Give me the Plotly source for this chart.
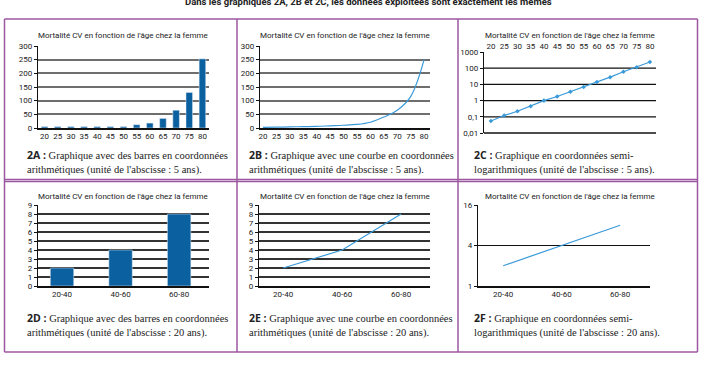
import plotly.graph_objects as go

W, H = 702, 370

# ---------------- data ----------------
ages = [20, 25, 30, 35, 40, 45, 50, 55, 60, 65, 70, 75, 80]
age_labels = [str(a) for a in ages]
mort_bars_5y = [5, 5, 5, 5, 5, 5, 5, 12, 18, 35, 65, 130, 253]
mort_curve_5y = [2, 3, 4, 5, 6, 8, 10, 13, 21, 40, 65, 115, 250]
mort_log_5y = [0.055, 0.12, 0.22, 0.45, 1.0, 1.8, 3.5, 7, 14, 28, 60, 115, 240]
groups = ["20-40", "40-60", "60-80"]
mort_20y = [2, 4, 8]
log_grid_5y = [0.1, 1, 10, 100]

title_txt = "Mortalité CV en fonction de l'âge chez la femme"
captions = [
    ("2A", "Graphique avec des barres en coordonnées", "arithmétiques (unité de l'abscisse : 5 ans)."),
    ("2B", "Graphique avec une courbe en coordonnées", "arithmétiques (unité de l'abscisse : 5 ans)."),
    ("2C", "Graphique en coordonnées semi-", "logarithmiques (unité de l'abscisse : 5 ans)."),
    ("2D", "Graphique avec des barres en coordonnées", "arithmétiques (unité de l'abscisse : 20 ans)."),
    ("2E", "Graphique avec une courbe en coordonnées", "arithmétiques (unité de l'abscisse : 20 ans)."),
    ("2F", "Graphique en coordonnées semi-", "logarithmiques (unité de l'abscisse : 20 ans)."),
]
header = "Dans les graphiques 2A, 2B et 2C, les données exploitées sont exactement les mêmes"

BAR = "#0b609f"
LINE = "#3a9ad8"
PURPLE = "#9d57a0"
SANS = "Roboto"
SERIF = "Liberation Serif"


def px(x):
    return x / W


def py(y):
    return 1 - y / H


def dom(x0, x1, y0, y1):
    return dict(domain=[px(x0), px(x1)]), dict(domain=[py(y1), py(y0)])


fig = go.Figure()

# 2A bars
fig.add_trace(go.Bar(x=age_labels, y=mort_bars_5y, marker_color=BAR, xaxis="x", yaxis="y",
                     width=0.5, showlegend=False))
# 2B curve
fig.add_trace(go.Scatter(x=ages, y=mort_curve_5y, mode="lines", line=dict(color=LINE, width=1.2, shape="spline", smoothing=1.0),
                         xaxis="x2", yaxis="y2", showlegend=False))
# 2C log
fig.add_trace(go.Scatter(x=ages, y=mort_log_5y, mode="lines+markers", line=dict(color=LINE, width=1.2),
                         marker=dict(symbol="diamond", size=3.5, color=LINE),
                         xaxis="x3", yaxis="y3", showlegend=False))
# 2D bars
fig.add_trace(go.Bar(x=[0, 1, 2], y=mort_20y, marker_color=BAR, width=0.4, xaxis="x4", yaxis="y4", showlegend=False))
# 2E line
fig.add_trace(go.Scatter(x=[0, 1, 2], y=mort_20y, mode="lines", line=dict(color=LINE, width=1.2),
                         xaxis="x5", yaxis="y5", showlegend=False))
# 2F log line
fig.add_trace(go.Scatter(x=[0, 1, 2], y=mort_20y, mode="lines", line=dict(color=LINE, width=1.2),
                         xaxis="x6", yaxis="y6", showlegend=False))

tickfont = dict(family=SANS, size=8, color="#222")
base_y = dict(showline=True, linecolor="#111", linewidth=1.3, ticks="outside", ticklen=3, tickcolor="#111",
              tickfont=tickfont, zeroline=False, fixedrange=True, automargin=False)
base_x = dict(showline=True, linecolor="#111", linewidth=1.5, ticks="", tickfont=tickfont, zeroline=False,
              showgrid=False, fixedrange=True, automargin=False)

# boxes (pixels): x0, x1, ytop, ybottom
boxes = {
    1: (38, 209, 46, 128),
    2: (260, 430, 46, 128),
    3: (484, 656, 52, 133),
    4: (38, 209, 205, 286),
    5: (259, 430, 205, 286),
    6: (478, 650, 205, 286),
}

layout = {}
for i, (x0, x1, y0, y1) in boxes.items():
    xd, yd = dom(x0, x1, y0, y1)
    sx = "" if i == 1 else str(i)
    layout["xaxis" + sx] = dict(base_x, **xd, anchor="y" + sx)
    layout["yaxis" + sx] = dict(base_y, **yd, anchor="x" + sx)

layout["xaxis"].update(type="category", range=[-0.5, 12.5])
layout["yaxis"].update(range=[0, 300], dtick=50, showgrid=True, gridcolor="#6e6e6e", gridwidth=1.8)

layout["xaxis2"].update(range=[18.9, 82.2], tickvals=ages, ticktext=age_labels)
layout["yaxis2"].update(range=[0, 300], dtick=50, showgrid=True, gridcolor="#6e6e6e", gridwidth=1.8)

layout["xaxis3"].update(range=[17.4, 82.3], tickvals=ages, ticktext=age_labels, side="top", showline=False)
layout["yaxis3"].update(type="log", range=[-2, 3], tickvals=[0.01, 0.1, 1, 10, 100, 1000],
                        ticktext=["0,01", "0,1", "1", "10", "100", "1000"], showgrid=False)

layout["xaxis4"].update(range=[-0.41, 2.51], tickvals=[0, 1, 2], ticktext=groups)
layout["yaxis4"].update(range=[0, 9], dtick=1, showgrid=True, gridcolor="#333", gridwidth=1.8)

layout["xaxis5"].update(range=[-0.41, 2.49], tickvals=[0, 1, 2], ticktext=groups)
layout["yaxis5"].update(range=[0, 9], dtick=1, showgrid=True, gridcolor="#333", gridwidth=1.8)

layout["xaxis6"].update(range=[-0.43, 2.51], tickvals=[0, 1, 2], ticktext=groups)
layout["yaxis6"].update(type="log", range=[0, 1.20412], tickvals=[1, 4, 16], ticktext=["1", "4", "16"],
                        showgrid=True, gridcolor="#111", gridwidth=1.3)

fig.update_layout(**layout)

shapes = []
# purple frame
for (x0, y0, x1, y1) in [(4.5, 19, 697.5, 19), (4.5, 179.5, 697.5, 179.5), (4.5, 181.5, 697.5, 181.5),
                         (4.5, 352, 697.5, 352), (4.5, 19, 4.5, 352), (237, 19, 237, 352),
                         (458, 19, 458, 352), (697.5, 19, 697.5, 352)]:
    shapes.append(dict(type="line", xref="paper", yref="paper", x0=px(x0), x1=px(x1), y0=py(y0), y1=py(y1),
                       line=dict(color=PURPLE, width=1.5)))
# bottom axis line of 2C (labels are on top)
shapes.append(dict(type="line", xref="x3 domain", yref="y3 domain", x0=0, x1=1, y0=0, y1=0,
                   line=dict(color="#111", width=1.5)))
# gridlines of 2C (none at the top value)
for g in log_grid_5y:
    shapes.append(dict(type="line", xref="x3 domain", yref="y3", x0=0, x1=1, y0=g, y1=g,
                       line=dict(color="#111", width=1.3), layer="below"))

annotations = []
title_pos = {1: (123, 35), 2: (345, 35), 3: (570, 35), 4: (123, 196), 5: (345, 196), 6: (570, 196)}
for i, (x, y) in title_pos.items():
    annotations.append(dict(text=title_txt, x=px(x), y=py(y), xref="paper", yref="paper", showarrow=False,
                            xanchor="center", yanchor="middle", font=dict(family=SANS, size=8, color="#222")))
cap_pos = {1: (25, 152), 2: (247, 152), 3: (472, 152), 4: (25, 315), 5: (247, 315), 6: (472, 315)}
for i, (x, y) in cap_pos.items():
    tag, l1, l2 = captions[i - 1]
    annotations.append(dict(
        text=f"<span style='font-family:Open Sans'><b>{tag} :</b></span> {l1}<br>{l2}",
        x=px(x), y=py(y - 6), xref="paper", yref="paper", showarrow=False, xanchor="left", yanchor="top",
        align="left", font=dict(family=SERIF, size=10.5, color="#222")))
annotations.append(dict(text=f"<b>{header}</b>", x=px(368), y=py(1.5), xref="paper", yref="paper", showarrow=False,
                        xanchor="center", yanchor="middle", font=dict(family=SANS, size=9.5, color="#222")))

fig.update_layout(width=W, height=H, margin=dict(l=0, r=0, t=0, b=0), paper_bgcolor="white",
                  plot_bgcolor="white", shapes=shapes, annotations=annotations, bargap=0.5)

fig.write_html("out.html", config={"displayModeBar": False},
               post_script="document.body.style.margin='0';document.body.style.overflow='hidden';")
